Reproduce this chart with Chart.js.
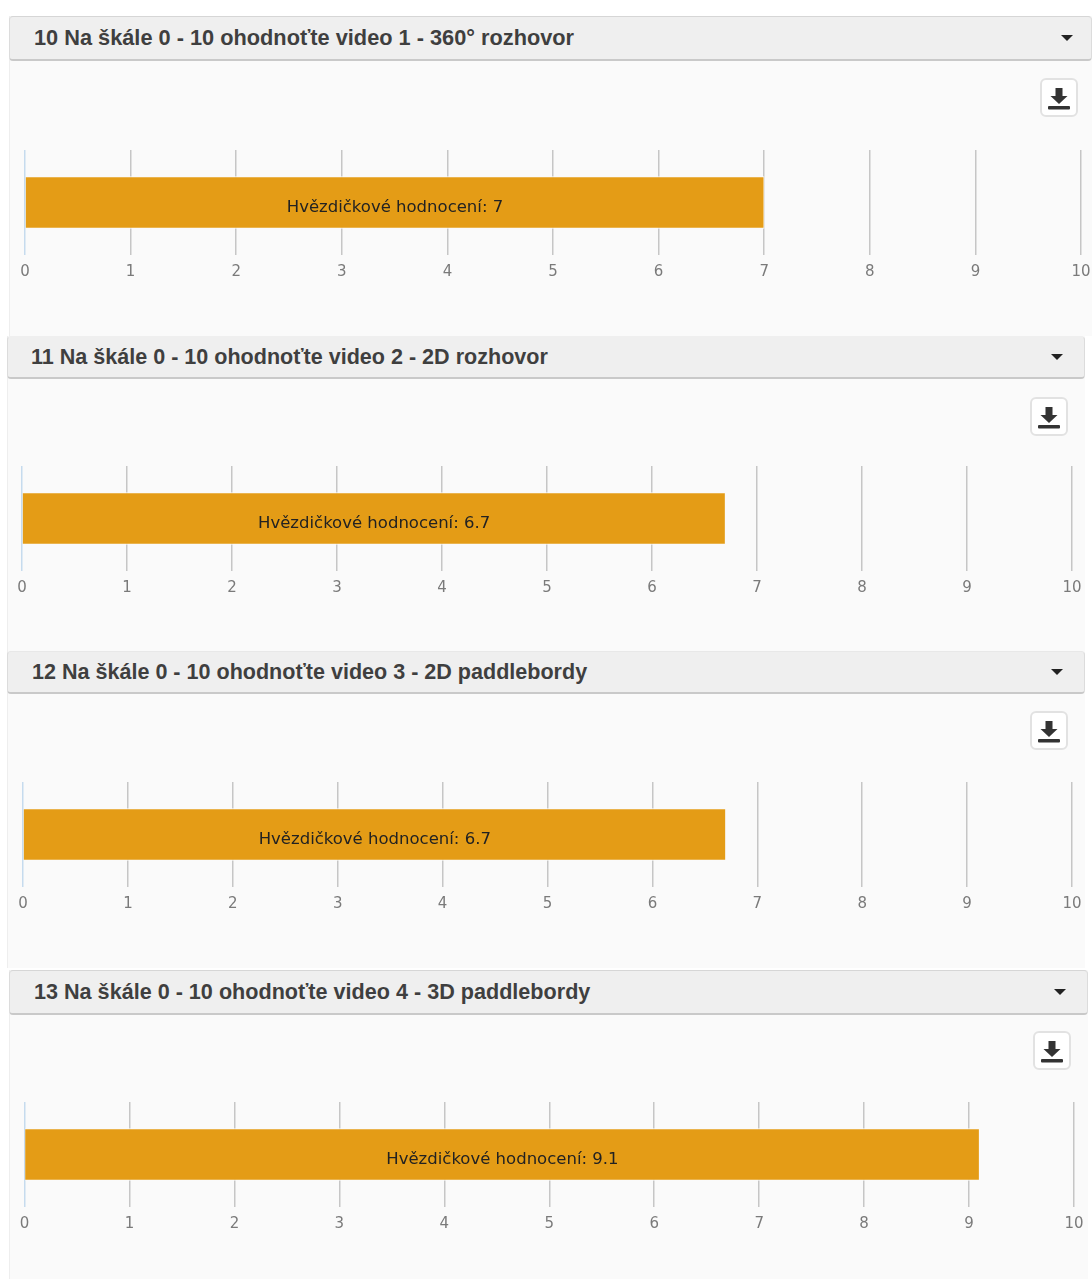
<!DOCTYPE html>
<html lang="cs">
<head>
<meta charset="utf-8">
<title>Hvězdičkové hodnocení</title>
<script src="https://cdn.jsdelivr.net/npm/chart.js@4/dist/chart.umd.min.js"></script>
<style>
    html, body { margin: 0; background: #fff; }
    body { position: relative; width: 1092px; height: 1279px; overflow: hidden; }
    .panel { position: absolute; background: #fafafa; border-left: 1px solid #eee; box-sizing: border-box; }
    .panel-head {
        position: absolute; left: -1px; right: 0; top: 0; box-sizing: border-box;
        background: #efefef; border: 1px solid #dcdcdc; border-bottom: 2px solid #c9c9c9; border-radius: 4px;
        font: bold 21.6px "Liberation Sans", Arial, sans-serif; color: #3f3f3f;
        white-space: nowrap;
    }
    .panel-head span { position: absolute; top: 50%; transform: translateY(-50%); }
    .caret {
        position: absolute; top: 50%; margin-top: -3px; width: 0; height: 0;
        border-left: 6px solid transparent; border-right: 6px solid transparent; border-top: 6px solid #222;
    }
    .download {
        position: absolute; width: 38px; height: 39px; box-sizing: border-box; padding: 0;
        background: #fff; border: 2px solid #e2e2e2; border-radius: 6px;
    }
    .download svg { display: block; margin: 4px auto 0; }
    canvas { position: absolute; left: 0; }
</style>
</head>
<body>
<script>
const questionTitles = [
    '10 Na škále 0 - 10 ohodnoťte video 1 - 360° rozhovor',
    '11 Na škále 0 - 10 ohodnoťte video 2 - 2D rozhovor',
    '12 Na škále 0 - 10 ohodnoťte video 3 - 2D paddlebordy',
    '13 Na škále 0 - 10 ohodnoťte video 4 - 3D paddlebordy'
];
const ratings = [7, 6.7, 6.7, 9.1];
const seriesName = 'Hvězdičkové hodnocení';
const axisMin = 0;
const axisMax = 10;
const axisStep = 1;

// page placement of each block
const boxes = [
    { left: 9, right: 1092, top: 16, headH: 45, bottom: 336, titleX: 24, titleSize: 21.75, topLine: '#d6d6d6', caretX: 1051, btnX: 1030, btnY: 62, x0: 25, x10: 1081, gridTop: 150 },
    { left: 7, right: 1085, top: 336, headH: 43, bottom: 651, titleX: 23, titleSize: 21.55, topLine: '#efefef', caretX: 1043, btnX: 1022, btnY: 61, x0: 22, x10: 1072, gridTop: 466 },
    { left: 7, right: 1085, top: 651, headH: 43, bottom: 968, titleX: 24, titleSize: 21.55, topLine: '#e8e8e8', caretX: 1043, btnX: 1022, btnY: 60, x0: 23, x10: 1072, gridTop: 782 },
    { left: 9, right: 1088, top: 970, headH: 45, bottom: 1279, titleX: 24, titleSize: 21.6, topLine: '#d6d6d6', caretX: 1044, btnX: 1023, btnY: 61, x0: 24.5, x10: 1074, gridTop: 1102 }
];

const gridHeight = 105;
const tickGap = 8;
const tickLine = 18;

// writes "name: value" in the middle of the bar
const barLabel = {
    id: 'barLabel',
    afterDatasetsDraw(chart) {
        const ctx = chart.ctx;
        const bar = chart.getDatasetMeta(0).data[0];
        const value = chart.data.datasets[0].data[0];
        ctx.save();
        ctx.font = '16.5px "DejaVu Sans", sans-serif';
        ctx.fillStyle = '#222';
        ctx.textAlign = 'center';
        ctx.textBaseline = 'middle';
        ctx.fillText(chart.data.datasets[0].label + ': ' + value, (bar.base + bar.x) / 2, bar.y + 5);
        ctx.restore();
    }
};

function addPanel(box, title, rating) {
    const panel = document.createElement('div');
    panel.className = 'panel';
    panel.style.left = box.left + 'px';
    panel.style.top = box.top + 'px';
    panel.style.width = (box.right - box.left) + 'px';
    panel.style.height = (box.bottom - box.top) + 'px';

    const head = document.createElement('div');
    head.className = 'panel-head';
    head.style.height = box.headH + 'px';
    head.style.fontSize = box.titleSize + 'px';
    head.style.borderTopColor = box.topLine;
    const text = document.createElement('span');
    text.style.left = box.titleX + 'px';
    text.textContent = title;
    const caret = document.createElement('div');
    caret.className = 'caret';
    caret.style.left = box.caretX + 'px';
    head.append(text, caret);

    const btn = document.createElement('button');
    btn.className = 'download';
    btn.style.left = box.btnX + 'px';
    btn.style.top = box.btnY + 'px';
    btn.innerHTML = '<svg width="24" height="25" viewBox="0 0 24 25"><path d="M8.5 1h7v8h5L12 17 3.500 9h5z" fill="#333"/><rect x="1" y="19" width="22" height="3.500" rx="1" fill="#333"/></svg>';

    const canvas = document.createElement('canvas');
    const w = box.right - box.left - 1;
    const h = box.gridTop - box.top + gridHeight + tickGap + tickLine;
    canvas.style.top = '0px';
    panel.append(canvas, head, btn);
    document.body.appendChild(panel);

    // sized by hand, the blocks are absolutely placed
    canvas.width = w;
    canvas.height = h;
    canvas.style.width = w + 'px';
    canvas.style.height = h + 'px';

    new Chart(canvas, {
        type: 'bar',
        data: {
            labels: [seriesName],
            datasets: [{
                label: seriesName,
                data: [rating],
                backgroundColor: '#e49c16',
                borderColor: '#fafafa',
                borderWidth: 1,
                borderSkipped: 'start',
                barThickness: 52
            }]
        },
        options: {
            indexAxis: 'y',
            responsive: false,
            animation: false,
            layout: {
                padding: {
                    left: box.x0 - box.left - 1,
                    right: box.right - box.x10,
                    top: box.gridTop - box.top,
                    bottom: 0
                }
            },
            plugins: {
                legend: { display: false },
                tooltip: { enabled: false }
            },
            scales: {
                x: {
                    min: axisMin,
                    max: axisMax,
                    border: { display: false },
                    grid: {
                        tickLength: tickGap,
                        tickColor: 'transparent',
                        lineWidth: 1.5,
                        color: (c) => c.tick.value === 0 ? '#c6dbee' : '#c6c6c6'
                    },
                    ticks: {
                        stepSize: axisStep,
                        maxRotation: 0,
                        padding: 0,
                        color: '#7a7a7a',
                        font: { family: '"DejaVu Sans", sans-serif', size: 15, lineHeight: 1.2 }
                    }
                },
                y: { display: false }
            }
        },
        plugins: [barLabel]
    });
}

boxes.forEach((box, i) => addPanel(box, questionTitles[i], ratings[i]));
</script>
</body>
</html>
